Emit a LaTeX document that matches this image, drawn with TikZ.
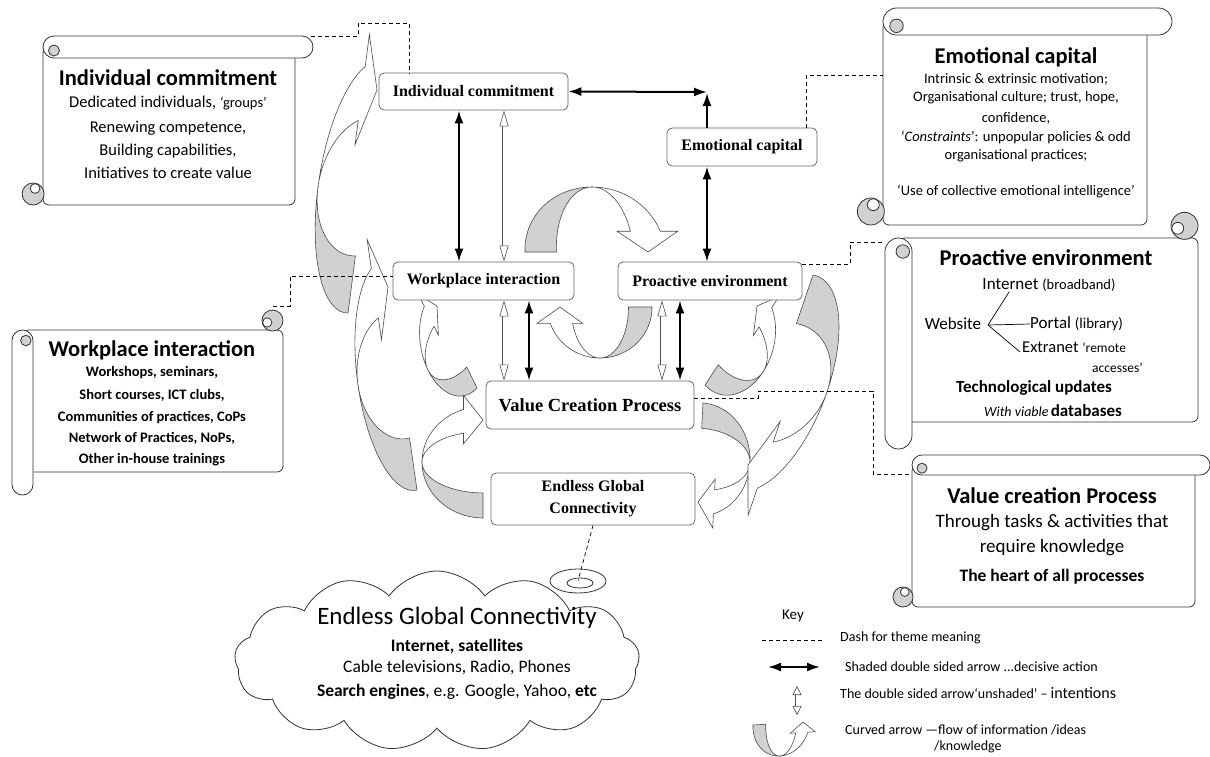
\documentclass[tikz,border=0pt]{standalone}
\usepackage{fontspec}
\setmainfont{Carlito}
\newfontfamily\boxfont{Liberation Serif}
\usetikzlibrary{arrows.meta,calc,shapes.symbols}

\definecolor{curlgray}{gray}{0.82}
\definecolor{edgegray}{gray}{0.4}

\newcommand\tsize[1]{\fontsize{#1}{#1}\selectfont}

% rolled note in its own frame: band on top, curl at bottom left
\newcommand\scrollshape[4]{% body length, body depth, band, overhang
  \pgfmathsetmacro\sbr{#3/2}
  \filldraw[scroll, rounded corners=6pt] (0,\sbr) -- (0,#2) -- (#1,#2) -- (#1,\sbr) -- cycle;
  \filldraw[scroll, rounded corners=\sbr pt] (0,0) rectangle (#1+#4,#3);
  \filldraw[scroll, fill=curlgray] (0.5*#3,0.66*#3) circle (0.25*#3);
  \filldraw[scroll, fill=curlgray] (-0.45*#3,#2-\sbr) circle (\sbr);
  \filldraw[scroll] (-0.36*#3,#2-0.75*#3) circle (0.22*#3);
}
\newcommand\hscroll[6]{\begin{scope}[shift={(#1,#2)}]\scrollshape{#3}{#4}{#5}{#6}\end{scope}}
\newcommand\vscroll[6]{\begin{scope}[shift={(#1,#2)}, x={(0pt,-1pt)}, y={(1pt,0pt)}]\scrollshape{#3}{#4}{#5}{#6}\end{scope}}

% curved block arrow: outer tail point, tip, top of the bend
\newcommand\flowarrow[6]{%
  \pgfmathsetmacro\fax{(#3-#1)/1.76}%
  \pgfmathsetmacro\fay{(#4-#2)/1.76}%
  \pgfmathsetmacro\fcx{#1+\fax}%
  \pgfmathsetmacro\fcy{#2+\fay}%
  \pgfmathsetmacro\fbx{#5-\fcx}%
  \pgfmathsetmacro\fby{#6-\fcy}%
  \pgfmathsetmacro\fnay{-1*(\fay)}%
  \pgfmathsetmacro\fnby{-1*(\fby)}%
  \begin{scope}[shift={(\fcx,\fcy)}, x={(\fax pt,\fnay pt)}, y={(\fbx pt,\fnby pt)}]
    \filldraw[flowback] plot[domain=180:90, samples=30] ({cos(\x)},{sin(\x)})
      -- plot[domain=90:180, samples=30] ({0.55*cos(\x)},{sin(\x)}) -- cycle;
    \filldraw[flowfront] plot[domain=90:18.66, samples=30] ({cos(\x)},{sin(\x)})
      -- (1.2,0.32) -- (0.76,0) -- (0.33,0.32)
      -- plot[domain=18.66:90, samples=30] ({0.55*cos(\x)},{sin(\x)}) -- cycle;
  \end{scope}}

\begin{document}
\begin{tikzpicture}[x=1pt, y=-1pt, every node/.style={inner sep=0pt},
  box/.style={draw=edgegray, line width=0.8pt, rounded corners=5pt, fill=white, font=\boxfont\bfseries\tsize{16}},
  scroll/.style={draw=black!80, line width=0.8pt, fill=white},
  flowback/.style={draw=black!70, line width=0.6pt, fill=curlgray},
  flowfront/.style={draw=black!70, line width=0.6pt, fill=white},
  decisive/.style={line width=2pt, {Latex[length=13pt,width=9pt]}-{Latex[length=13pt,width=9pt]}},
  intention/.style={draw=black!70, line width=0.6pt, double=white, double distance=3pt,
    {Triangle[open, fill=white, length=16pt, width=9pt]}-{Triangle[open, fill=white, length=16pt, width=9pt]}},
  themeline/.style={line width=0.7pt, dash pattern=on 4pt off 3pt},
  heading/.style={font=\bfseries\tsize{22.5}}]

\fill[white] (0,0) rectangle (1210,756);
\useasboundingbox (0,0) rectangle (1210,756);

% notes
\hscroll{43}{36}{252}{169}{22}{18}
\hscroll{883}{8}{264}{217}{27}{25}
\vscroll{12}{330}{142}{271}{21}{23}
\vscroll{885}{238}{184}{313}{27}{27}
\hscroll{912}{455}{283}{152}{20}{15}

% cloud
\node[cloud, cloud puffs=13, cloud puff arc=110, aspect=2.3, draw=black!80, line width=0.8pt,
  fill=white, minimum width=405, minimum height=180] (cloud) at (437,661) {};
\coordinate (cloudring) at (578,581);
\draw[black!80, line width=0.8pt, fill=white] (cloudring) ellipse [x radius=28, y radius=12];
\draw[black!80, line width=0.8pt] (580,583) ellipse [x radius=13, y radius=5];

% flow of information
\flowarrow{525}{252}{648}{252}{592}{187}
\flowarrow{652}{307}{560}{307}{600}{358}
\flowarrow{477}{388}{437}{306}{428}{370}
\flowarrow{705}{385}{757}{306}{763}{372}
\flowarrow{483}{518}{483}{420}{422}{462}
\flowarrow{703}{403}{698}{502}{750}{463}
\flowarrow{348}{313}{377}{90}{318}{187}
\flowarrow{417}{490}{388}{287}{358}{385}
\flowarrow{813}{275}{748}{465}{827}{392}

% themes
\node[box, minimum width=189, minimum height=37] (ic) at (473.5,91.5) {Individual commitment};
\node[box, minimum width=150, minimum height=38] (ec) at (742,147) {Emotional capital};
\node[box, minimum width=181, minimum height=38] (wi) at (483.5,281) {Workplace interaction};
\node[box, minimum width=184, minimum height=38] (pe) at (710,281) {Proactive environment};
\node[box, minimum width=208, minimum height=48, font=\boxfont\bfseries\tsize{18.5}] (vcp) at (590,405) {Value Creation Process};
\node[box, minimum width=204, minimum height=52, align=center,
  font=\boxfont\bfseries\fontsize{16}{22}\selectfont] (egc) at (593,499) {Endless Global\\Connectivity};

% links between themes
\coordinate (ecturn) at (707,92);
\coordinate (colA) at (459,0);
\coordinate (colB) at (504,0);
\coordinate (colC) at (529,0);
\coordinate (colD) at (662,0);
\coordinate (colE) at (680,0);
\draw[decisive] (ic.east) -- (ecturn);
\draw[line width=2pt, -{Latex[length=13pt,width=9pt]}] (ec.north -| ecturn) -- ($(ecturn)+(0,1)$);
\draw[decisive] (ec.south -| ecturn) -- (pe.north -| ecturn);
\draw[decisive] (ic.south -| colA) -- (wi.north -| colA);
\draw[intention] (ic.south -| colB) -- (wi.north -| colB);
\draw[intention] (wi.south -| colB) -- (vcp.north -| colB);
\draw[decisive] (wi.south -| colC) -- (vcp.north -| colC);
\draw[intention] (pe.south -| colD) -- (vcp.north -| colD);
\draw[decisive] (pe.south -| colE) -- (vcp.north -| colE);

% dashes to the notes
\coordinate (icscroll) at (311,36);
\coordinate (ecscroll) at (883,75);
\coordinate (wiscroll) at (273,306);
\coordinate (pescroll) at (885,242);
\coordinate (vcpscroll) at (912,474);
\draw[themeline] (icscroll) -| (358,23) -| ($(ic.north)+(-64,0)$);
\draw[themeline] ($(ec.north east)+(-11,0)$) |- (ecscroll);
\draw[themeline] (wiscroll) -| (290,276) -- ($(wi.west)+(0,-5)$);
\draw[themeline] ($(pe.east)+(0,-17)$) -- (850,264) |- (pescroll);
\draw[themeline] ($(vcp.east)+(0,-7)$) -| (758,391) -| (873,474) -- (vcpscroll);
\draw[themeline] (egc.south) -- (cloudring);

% Individual commitment
\node[heading] (icnote) at (168,78) {Individual commitment};
\foreach \yy/\txt [count=\i] in {103/{Dedicated individuals, {\tsize{14.5}‘groups’}},
    128/{Renewing competence,}, 151/{Building capabilities,}, 173/{Initiatives to create value}}
  \node[font=\tsize{16.5}] (icline\i) at (168,\yy) {\txt};

% Emotional capital
\node[heading] (ecnote) at (1016,57) {Emotional capital};
\foreach \yy/\txt [count=\i] in {79/{Intrinsic \& extrinsic motivation;},
    98/{Organisational culture; trust, hope,}, 118/{confidence,},
    137/{‘\textit{Constraints}’: unpopular policies \& odd}, 156/{organisational practices;},
    192/{‘Use of collective emotional intelligence’}}
  \node[font=\tsize{14.5}] (ecline\i) at (1016,\yy) {\txt};

% Workplace interaction
\node[heading] (winote) at (152,350) {Workplace interaction};
\foreach \yy/\txt [count=\i] in {373/{Workshops, seminars,}, 395/{Short courses, ICT clubs,},
    418/{Communities of practices, CoPs}, 438/{Network of Practices, NoPs,},
    460/{Other in-house trainings}}
  \node[font=\bfseries\tsize{14.5}] (wiline\i) at (152,\yy) {\txt};

% Proactive environment
\node[heading] (penote) at (1046,258) {Proactive environment};
\node[font=\tsize{17}] (inet) at (1049,285) {Internet {\tsize{14.5}(broadband)}};
\node[font=\tsize{17}] (web) at (953,324) {Website};
\node[font=\tsize{17}, anchor=west] (portal) at (1030,324) {Portal {\tsize{15}(library)}};
\node[font=\tsize{16.5}, anchor=west] (extra) at (1022,347) {Extranet {\tsize{13.5}‘remote}};
\node[font=\tsize{13.5}, anchor=west] (access) at (1092,368) {accesses’};
\node[font=\bfseries\tsize{17}] (techup) at (1034,388) {Technological updates};
\node (viable) at (1053,411) {{\itshape\tsize{14}With viable} {\bfseries\tsize{17}databases}};
\coordinate (fork) at (988,325);
\draw[line width=0.7pt] (fork) -- ($(inet.south west)+(27,0)$);
\draw[line width=0.7pt] (fork) -- (portal.west);
\draw[line width=0.7pt] (fork) -- ($(extra.west)+(-2,5)$);

% Value creation
\node[heading] (vcpnote) at (1052,496) {Value creation Process};
\node[font=\tsize{19}] (vcpline1) at (1052,523) {Through tasks \& activities that};
\node[font=\tsize{19}] (vcpline2) at (1052,548) {require knowledge};
\node[font=\bfseries\tsize{17.5}] (vcpline3) at (1052,577) {The heart of all processes};

% Endless global connectivity
\node[font=\tsize{25}] (cloudtitle) at (457,618) {Endless Global Connectivity};
\node[font=\bfseries\tsize{17.5}] (cloudline1) at (457,647) {Internet, satellites};
\node[font=\tsize{17.5}] (cloudline2) at (457,668) {Cable televisions, Radio, Phones};
\node[font=\tsize{17.5}] (cloudline3) at (457,692) {\textbf{Search engines}, e.g. Google, Yahoo, \textbf{etc}};

% key
\node[font=\tsize{15}] (keytitle) at (793,616) {Key};
\coordinate (keydashA) at (762,640);
\coordinate (keydashB) at (822,640);
\draw[themeline] (keydashA) -- (keydashB);
\node[font=\tsize{14}, anchor=west] (keydash) at (840,638) {Dash for theme meaning};
\coordinate (keyblackA) at (768,667);
\coordinate (keyblackB) at (820,667);
\draw[decisive] (keyblackA) -- (keyblackB);
\node[font=\tsize{14}, anchor=west] (keydecisive) at (845,667) {Shaded double sided arrow ...decisive action};
\coordinate (keyopenA) at (797,686);
\coordinate (keyopenB) at (797,715);
\draw[intention, {Triangle[open, fill=white, length=9pt, width=9pt]}-{Triangle[open, fill=white, length=9pt, width=9pt]}] (keyopenA) -- (keyopenB);
\node[font=\tsize{14}, anchor=west] (keyintention) at (840,693) {The double sided arrow‘unshaded’ -- {\tsize{16}intentions}};
\flowarrow{753}{725}{803}{722}{780}{756}
\node[font=\tsize{14}, anchor=west] (keyflow) at (845,730) {Curved arrow ---flow of information /ideas};
\node[font=\tsize{14}, anchor=west] (keyflowb) at (934,747) {/knowledge};
\end{tikzpicture}
\end{document}
